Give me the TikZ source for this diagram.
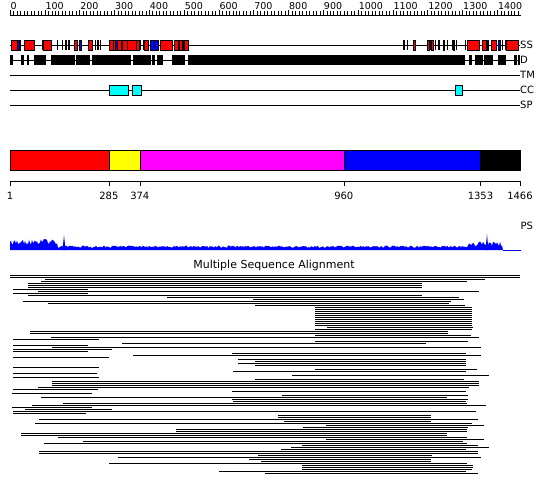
\documentclass[tikz,border=0pt]{standalone}
\usepackage{fontspec}
\setmainfont{DejaVu Sans}
\usepackage{xcolor}
\usepackage{tikz}
\usetikzlibrary{positioning}
\definecolor{ssHelix}{HTML}{FF0000}
\definecolor{ssStrand}{HTML}{0000FF}
\definecolor{ccFill}{HTML}{00FFFF}
\definecolor{domA}{HTML}{FF0000}
\definecolor{domB}{HTML}{FFFF00}
\definecolor{domC}{HTML}{FF00FF}
\definecolor{domD}{HTML}{0000FF}
\definecolor{psBlue}{HTML}{0000FF}
\tikzset{
  trackline/.style={black, line width=0.8pt},
  helixbox/.style={draw=black, fill=ssHelix, line width=0.6pt},
  strandbox/.style={draw=black, fill=ssStrand, line width=0.4pt},
  coilbar/.style={fill=black},
  dbox/.style={fill=black},
  ccbox/.style={draw=black, fill=ccFill, line width=0.6pt},
  dombox/.style={draw=black, line width=0.6pt},
  axisline/.style={black, line width=0.8pt},
  alnseg/.style={black, line width=1pt},
  tracklabel/.style={font=\fontsize{10}{12}\selectfont, anchor=west, inner sep=0.5pt},
  rulerlabel/.style={font=\fontsize{9.5}{11}\selectfont, anchor=west, inner sep=0.5pt},
  poslabel/.style={font=\fontsize{10}{12}\selectfont, inner sep=0.5pt},
  titlelabel/.style={font=\fontsize{11}{13}\selectfont, inner sep=0pt}
}
\begin{document}
\begin{tikzpicture}[x=1pt, y=-1pt]
  \useasboundingbox (0,0) rectangle (550,495);
  \fill[white] (0,0) rectangle (550,495);

  % ruler
  \draw[axisline] (10,15) -- (521,15);
  \foreach \r in {0,10,...,1460}
    \draw[black, line width=0.5pt] ({10+\r*0.3481},15) -- ++(0,-3.5);
  \foreach \r in {0,100,...,1400} {
    \draw[black, line width=0.6pt] ({10+\r*0.3481},15) -- ++(0,-5);
    \node[rulerlabel] (rul\r) at ({10+\r*0.3481},6.5) {\r};
  }

  % tracks
  \foreach \y/\t in {45/SS, 60/D, 75/TM, 90/CC, 105/SP} {
    \draw[trackline] (10,\y) -- (520,\y);
    \node[tracklabel] (lbl\t) at (519.5,\y) {\t};
  }

  % secondary structure
  \foreach \a/\b in {11/20.7, 24.3/34.3, 43.3/51.7, 74/77.3, 88.3/92.3, 109.3/121.7,
      122.3/139, 144/148.3, 160.7/172.7, 174.3/188.3, 413.3/415, 427.3/429, 431/433,
      467.7/479.3, 482.7/488.3, 491/496.7, 506.7/518.3}
    \draw[helixbox] (\a,40) rectangle (\b,50);
  \foreach \a/\b in {17.3/19, 79.3/81.3, 115/117.3, 150/158.3, 178.3/179.6, 181.7/183,
      443/444.4, 453/454.4, 486/487.4, 497.7/500}
    \draw[strandbox] (\a,40) rectangle (\b,50);
  \foreach \a in {42.3, 57, 61.7, 65.3, 68.3, 95, 97.3, 100, 113, 127, 136, 140, 143,
      154, 184, 403.3, 406.7, 430, 435, 438.3, 446.7, 451.7, 456, 465, 482, 501.7, 505}
    \fill[coilbar] (\a,40) rectangle ++(1.4,10);

  % disorder
  \foreach \a/\b in {10/12.7, 20.7/24, 26.7/29.3, 34/46, 50.7/75, 76/90, 91.7/131,
      133.3/151, 152.3/155, 156.7/163.3, 171.7/185, 188.3/465, 469.3/471.7, 475/482.7,
      484/492.7, 498.3/506, 514.3/516.7, 517.7/520}
    \fill[dbox] (\a,55) rectangle (\b,65);

  % coiled coil
  \foreach \a/\b in {109.3/128.3, 132.3/141.3, 455/462.3}
    \draw[ccbox] (\a,85) rectangle (\b,95);

  % domain bar
  \draw[dombox, fill=domA] (10,150) rectangle (108.9,170);
  \draw[dombox, fill=domB] (108.9,150) rectangle (139.8,170);
  \draw[dombox, fill=domC] (139.8,150) rectangle (343.8,170);
  \draw[dombox, fill=domD] (343.8,150) rectangle (480.5,170);
  \draw[dombox, fill=black] (480.5,150) rectangle (520,170);

  % domain boundaries
  \draw[axisline] (10,181) -- (520,181);
  \foreach \p/\x in {1/10, 285/108.9, 374/139.8, 960/343.8, 1353/480.5, 1466/520} {
    \draw[black, line width=0.6pt] (\x,181) -- ++(0,5);
    \node[poslabel] (pos\p) at (\x,196) {\p};
  }

  % profile
  \pgfmathsetseed{7}
  \node[tracklabel] (lblPS) at (520,226) {PS};
  \fill[psBlue] (10,250) -- (10,243)
    \foreach \i in {0,...,492} { -- ({10+\i},{250-(\i<48 ? 5+6*rnd : (\i>458 ? 4+4.5*rnd : 2.2+2.2*rnd))}) }
    -- (503,250) -- cycle;
  \fill[psBlue] (62.5,250) -- (64,235) -- (65.5,250) -- cycle;
  \fill[psBlue] (485.5,250) -- (487,234) -- (488.5,250) -- cycle;
  \draw[psBlue, line width=0.8pt] (503,250) -- (521,250);

  % alignment
  \node[titlelabel] (msaTitle) at (274,265) {Multiple Sequence Alignment};
  \foreach \y/\a/\b in {275/10/520, 277/10/520, 279/45/485, 281/41/467, 283/28/422,
      285/28/422, 287/28/422, 289/13/88, 291/38/479, 293/13/88, 295/28/422, 297/167/459,
      299/253/464, 301/23/451, 303/48/449, 305/255/465, 307/315/472, 309/315/472,
      311/315/472, 313/315/472, 315/315/472, 317/315/472, 319/315/472, 321/315/472,
      323/315/472, 325/315/472, 327/327/473, 329/315/472, 331/30/448, 333/30/448,
      335/315/471, 337/51/479, 339/13/99, 341/315/468, 343/122/426, 345/13/88,
      347/52/481, 349/13/112, 351/13/88, 353/232/466, 355/133/481, 357/13/109,
      359/238/466, 361/255/466, 363/238/466, 365/255/466, 367/13/99, 369/315/477,
      371/233/466, 373/13/97, 375/292/489, 377/13/99, 379/255/464, 381/52/479,
      383/52/479, 385/52/479, 387/38/469, 389/13/98, 391/232/466, 393/12/92,
      395/282/468, 397/41/447, 399/232/468, 401/233/466, 403/63/467, 405/32/486,
      407/12/92, 409/25/112, 411/13/476, 413/13/86, 415/278/431, 417/278/431,
      419/39/478, 421/284/431, 423/35/472, 425/326/484, 427/303/468, 429/176/467,
      431/176/467, 433/21/447, 435/21/447, 437/58/467, 439/326/484, 441/83/463,
      443/44/467, 445/302/478, 447/291/489, 449/281/466, 451/39/478, 453/39/478,
      455/258/432, 457/118/481, 459/249/431, 461/261/431, 463/109/467, 465/302/473,
      467/302/473, 469/302/472, 471/219/466, 473/265/478}
    \draw[alnseg] (\a,\y) -- (\b,\y);
\end{tikzpicture}
\end{document}
